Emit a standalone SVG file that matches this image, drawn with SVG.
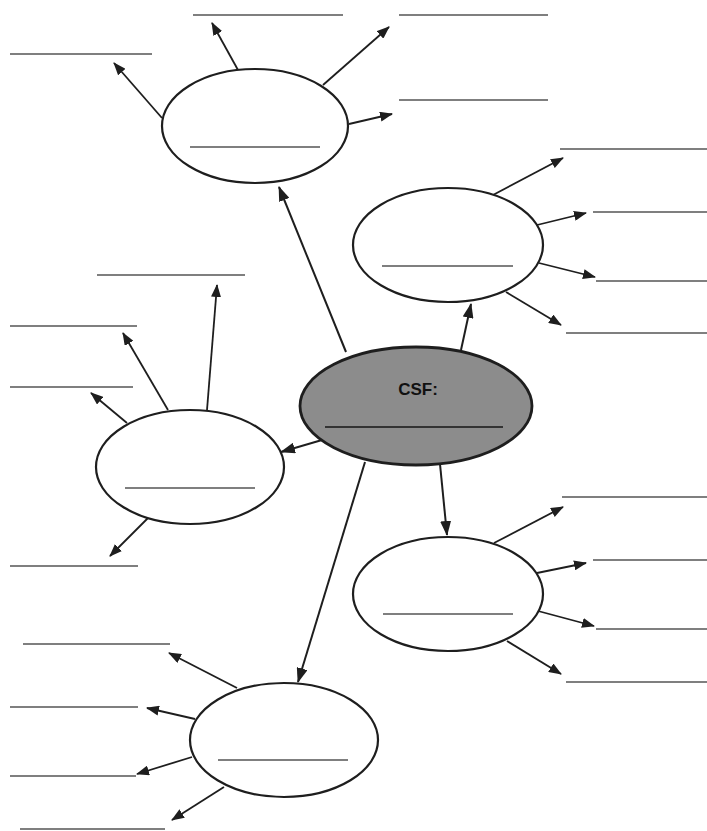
<svg xmlns="http://www.w3.org/2000/svg" width="707" height="831" viewBox="0 0 707 831">
<style>
.node ellipse{fill:#fff;stroke:#1e1e1e;stroke-width:2.2}
.blank{stroke:#555;stroke-width:1.6;fill:none}
.conn line{stroke:#1e1e1e;stroke-width:1.8;marker-end:url(#ah)}
.conn line.main{stroke-width:2;marker-end:url(#ahb)}
.lbl{font-family:"Liberation Sans",Arial,sans-serif;font-weight:bold;font-size:17px;fill:#111}
</style>
<defs>
<marker id="ah" markerUnits="userSpaceOnUse" markerWidth="13" markerHeight="10" refX="12" refY="5" orient="auto"><path d="M0,0 L13,5 L0,10 z" fill="#1e1e1e"/></marker>
<marker id="ahb" markerUnits="userSpaceOnUse" markerWidth="15" markerHeight="11" refX="14" refY="5.5" orient="auto"><path d="M0,0 L15,5.5 L0,11 z" fill="#1e1e1e"/></marker>
</defs>
<rect width="707" height="831" fill="#fff"/>
<g id="connectors" class="conn">
<line class="main" x1="346" y1="352" x2="279" y2="187"/>
<line class="main" x1="461" y1="350" x2="471" y2="304"/>
<line class="main" x1="322" y1="440" x2="281" y2="452"/>
<line class="main" x1="440" y1="464" x2="447" y2="535"/>
<line class="main" x1="365" y1="462" x2="298" y2="682"/>
<line x1="162" y1="118" x2="114" y2="63"/>
<line x1="238" y1="70" x2="212" y2="23"/>
<line x1="323" y1="85" x2="389" y2="27"/>
<line x1="349" y1="124" x2="392" y2="114"/>
<line x1="493" y1="195" x2="563" y2="158"/>
<line x1="537" y1="225" x2="586" y2="213"/>
<line x1="539" y1="263" x2="595" y2="277"/>
<line x1="506" y1="292" x2="561" y2="325"/>
<line x1="207" y1="410" x2="217" y2="285"/>
<line x1="168" y1="410" x2="123" y2="333"/>
<line x1="127" y1="423" x2="91" y2="393"/>
<line x1="148" y1="518" x2="110" y2="556"/>
<line x1="494" y1="543" x2="563" y2="507"/>
<line x1="537" y1="573" x2="586" y2="563"/>
<line x1="538" y1="611" x2="594" y2="626"/>
<line x1="507" y1="641" x2="561" y2="674"/>
<line x1="237" y1="688" x2="169" y2="653"/>
<line x1="195" y1="719" x2="147" y2="708"/>
<line x1="192" y1="757" x2="137" y2="774"/>
<line x1="224" y1="787" x2="172" y2="820"/>
</g>
<g id="blanks" class="blank">
<line x1="10" y1="54" x2="152" y2="54"/>
<line x1="193" y1="15" x2="343" y2="15"/>
<line x1="399" y1="15" x2="548" y2="15"/>
<line x1="399" y1="100" x2="548" y2="100"/>
<line x1="560" y1="149" x2="707" y2="149"/>
<line x1="593" y1="212" x2="707" y2="212"/>
<line x1="596" y1="281" x2="707" y2="281"/>
<line x1="566" y1="333" x2="707" y2="333"/>
<line x1="97" y1="275" x2="245" y2="275"/>
<line x1="10" y1="326" x2="137" y2="326"/>
<line x1="10" y1="387" x2="133" y2="387"/>
<line x1="10" y1="566" x2="138" y2="566"/>
<line x1="562" y1="497" x2="707" y2="497"/>
<line x1="593" y1="560" x2="707" y2="560"/>
<line x1="596" y1="629" x2="707" y2="629"/>
<line x1="566" y1="682" x2="707" y2="682"/>
<line x1="23" y1="644" x2="170" y2="644"/>
<line x1="10" y1="707" x2="138" y2="707"/>
<line x1="10" y1="776" x2="136" y2="776"/>
<line x1="20" y1="829" x2="165" y2="829"/>
</g>
<g id="node-top" class="node">
<ellipse cx="255" cy="126" rx="93" ry="57"/>
<line class="blank" x1="190" y1="147" x2="320" y2="147"/>
</g>
<g id="node-right-top" class="node">
<ellipse cx="448" cy="245" rx="95" ry="57"/>
<line class="blank" x1="382" y1="266" x2="513" y2="266"/>
</g>
<g id="node-left" class="node">
<ellipse cx="190" cy="467" rx="94" ry="57"/>
<line class="blank" x1="125" y1="488" x2="255" y2="488"/>
</g>
<g id="node-right-bottom" class="node">
<ellipse cx="448" cy="594" rx="95" ry="57"/>
<line class="blank" x1="383" y1="614" x2="513" y2="614"/>
</g>
<g id="node-bottom" class="node">
<ellipse cx="284" cy="740" rx="94" ry="57"/>
<line class="blank" x1="218" y1="760" x2="348" y2="760"/>
</g>
<g id="node-csf">
<ellipse cx="416" cy="406" rx="116" ry="59" fill="#8c8c8c" stroke="#1e1e1e" stroke-width="2.8"/>
<text class="lbl" x="418" y="395" text-anchor="middle">CSF:</text>
<line x1="325" y1="427" x2="503" y2="427" stroke="#333" stroke-width="1.8"/>
</g>
</svg>
